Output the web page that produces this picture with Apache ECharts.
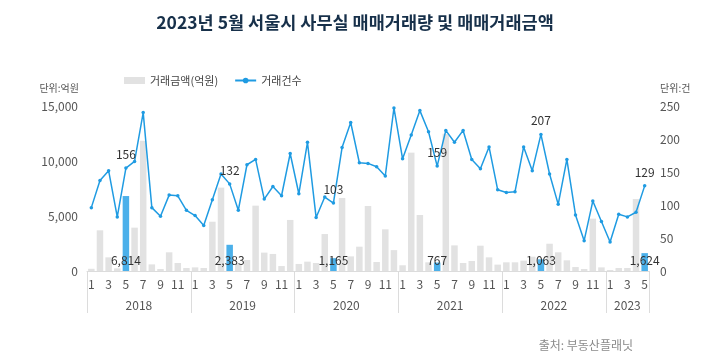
<!DOCTYPE html>
<html><head><meta charset="utf-8">
<script src="https://cdn.jsdelivr.net/npm/echarts@6/dist/echarts.min.js"></script>
<style>html,body{margin:0;padding:0;background:#fff}#c{width:710px;height:360px}</style>
</head><body><div id="c"></div>
<script>
const years = ['2018','2019','2020','2021','2022','2023'];
const months = [
 1,2,3,4,5,6,7,8,9,10,11,12,
 1,2,3,4,5,6,7,8,9,10,11,12,
 1,2,3,4,5,6,7,8,9,10,11,12,
 1,2,3,4,5,6,7,8,9,10,11,12,
 1,2,3,4,5,6,7,8,9,10,11,12,
 1,2,3,4,5
];
// 거래금액(억원)
const amount = [
 200,3700,1240,240,6814,3940,11850,600,180,1700,730,270,
 330,270,4480,7580,2383,670,1000,5940,1670,1550,450,4640,
 640,850,730,3360,1165,6640,1330,2210,5910,820,3790,1900,
 520,10760,5090,790,767,12480,2330,730,910,2300,1240,580,
 790,790,940,1300,1063,2480,1700,970,360,180,4760,330,
 90,270,270,6540,1624
];
// 거래건수
const count = [
 96,137,152,82,156,166,240,96,83,115,114,92,
 84,69,108,147,132,92,161,169,109,128,114,178,
 117,195,81,112,103,187,225,164,163,158,144,247,
 170,206,243,211,159,213,195,213,169,155,188,123,
 119,120,188,152,207,147,101,169,85,46,106,75,
 44,86,82,89,129
];
const yearStart = [0,12,24,36,48,60,65];
const yearMid = [6,18,30,42,54,62.5];

const cats = months.map((m,i)=>String(m)+'_'+i);
const n = months.length;
const hiColor = '#4bb0ea', grayColor = '#e2e2e2', lineColor = '#1f9be2';
const FONT = '"Noto Sans CJK KR", "Noto Sans", sans-serif';

const barData = amount.map((v,i)=>{
  const hi = months[i]===5;
  return {
    value: v,
    itemStyle: {color: hi ? hiColor : grayColor},
    label: {show: hi}
  };
});
const lineData = count.map((v,i)=>({value: v, label: {show: months[i]===5}}));

const chart = echarts.init(document.getElementById('c'), null, {renderer:'canvas'});
chart.setOption({
  animation: false,
  textStyle: {fontFamily: FONT},
  title: [{
    text: '2023년 5월 서울시 사무실 매매거래량 및 매매거래금액',
    left: 'center', top: 9,
    textStyle: {fontSize: 17.5, fontWeight: 'bold', color: '#17304a', fontFamily: FONT}
  },{
    text: '출처: 부동산플래닛',
    right: 72, bottom: 4,
    textStyle: {fontSize: 12, fontWeight: 'normal', color: '#8a8a8a', fontFamily: FONT}
  }],
  legend: {
    left: 119, top: 70,
    itemGap: 16, itemWidth: 21, itemHeight: 7,
    textStyle: {fontSize: 11, color: '#444', fontFamily: FONT},
    data: [
      {name: '거래금액(억원)', icon: 'rect', itemStyle: {color: grayColor}},
      {name: '거래건수'}
    ]
  },
  grid: {left: 87, right: 61, top: 106, bottom: 89},
  xAxis: [{
    type: 'category', data: cats, position: 'bottom',
    axisLine: {show: true, lineStyle: {color: '#dcdcdc'}},
    axisTick: {show: false},
    axisLabel: {interval: 1, margin: 7, fontSize: 12, color: '#555',
      formatter: v => v.split('_')[0]}
  },{
    type: 'value', min: 0, max: n, position: 'bottom',
    axisLine: {show: false},
    splitLine: {show: false},
    axisTick: {show: true, customValues: yearStart, length: 42, lineStyle: {color: '#dcdcdc'}},
    axisLabel: {customValues: yearMid, margin: 28, fontSize: 12, color: '#555',
      formatter: v => years[yearMid.indexOf(v)]}
  }],
  yAxis: [{
    type: 'value', min: 0, max: 15000, interval: 5000,
    name: '단위:억원', nameGap: 13,
    nameTextStyle: {fontSize: 10, color: '#555', align: 'right', padding: [0, 8, 0, 0]},
    axisLine: {show: false}, axisTick: {show: false}, splitLine: {show: false},
    axisLabel: {margin: 9, fontSize: 12, color: '#555',
      formatter: v => v.toLocaleString('en-US')}
  },{
    type: 'value', min: 0, max: 250, interval: 50,
    name: '단위:건', nameGap: 13,
    nameTextStyle: {fontSize: 10, color: '#555', align: 'left', padding: [0, 0, 0, 11]},
    axisLine: {show: false}, axisTick: {show: false}, splitLine: {show: false},
    axisLabel: {margin: 11, fontSize: 12, color: '#555'}
  }],
  series: [{
    name: '거래금액(억원)', type: 'bar', xAxisIndex: 0, yAxisIndex: 0,
    data: barData, barWidth: 6.5,
    itemStyle: {color: grayColor},
    label: {position: 'insideBottom', distance: 5, fontSize: 12, color: '#333',
      formatter: p => p.value.toLocaleString('en-US')}
  },{
    name: '거래건수', type: 'line', xAxisIndex: 0, yAxisIndex: 1,
    data: lineData, symbol: 'circle', symbolSize: 3.5, showAllSymbol: true,
    itemStyle: {color: lineColor},
    lineStyle: {color: lineColor, width: 1.5},
    label: {position: 'top', distance: 6, fontSize: 12, color: '#333'},
    z: 3
  }]
});
</script></body></html>
